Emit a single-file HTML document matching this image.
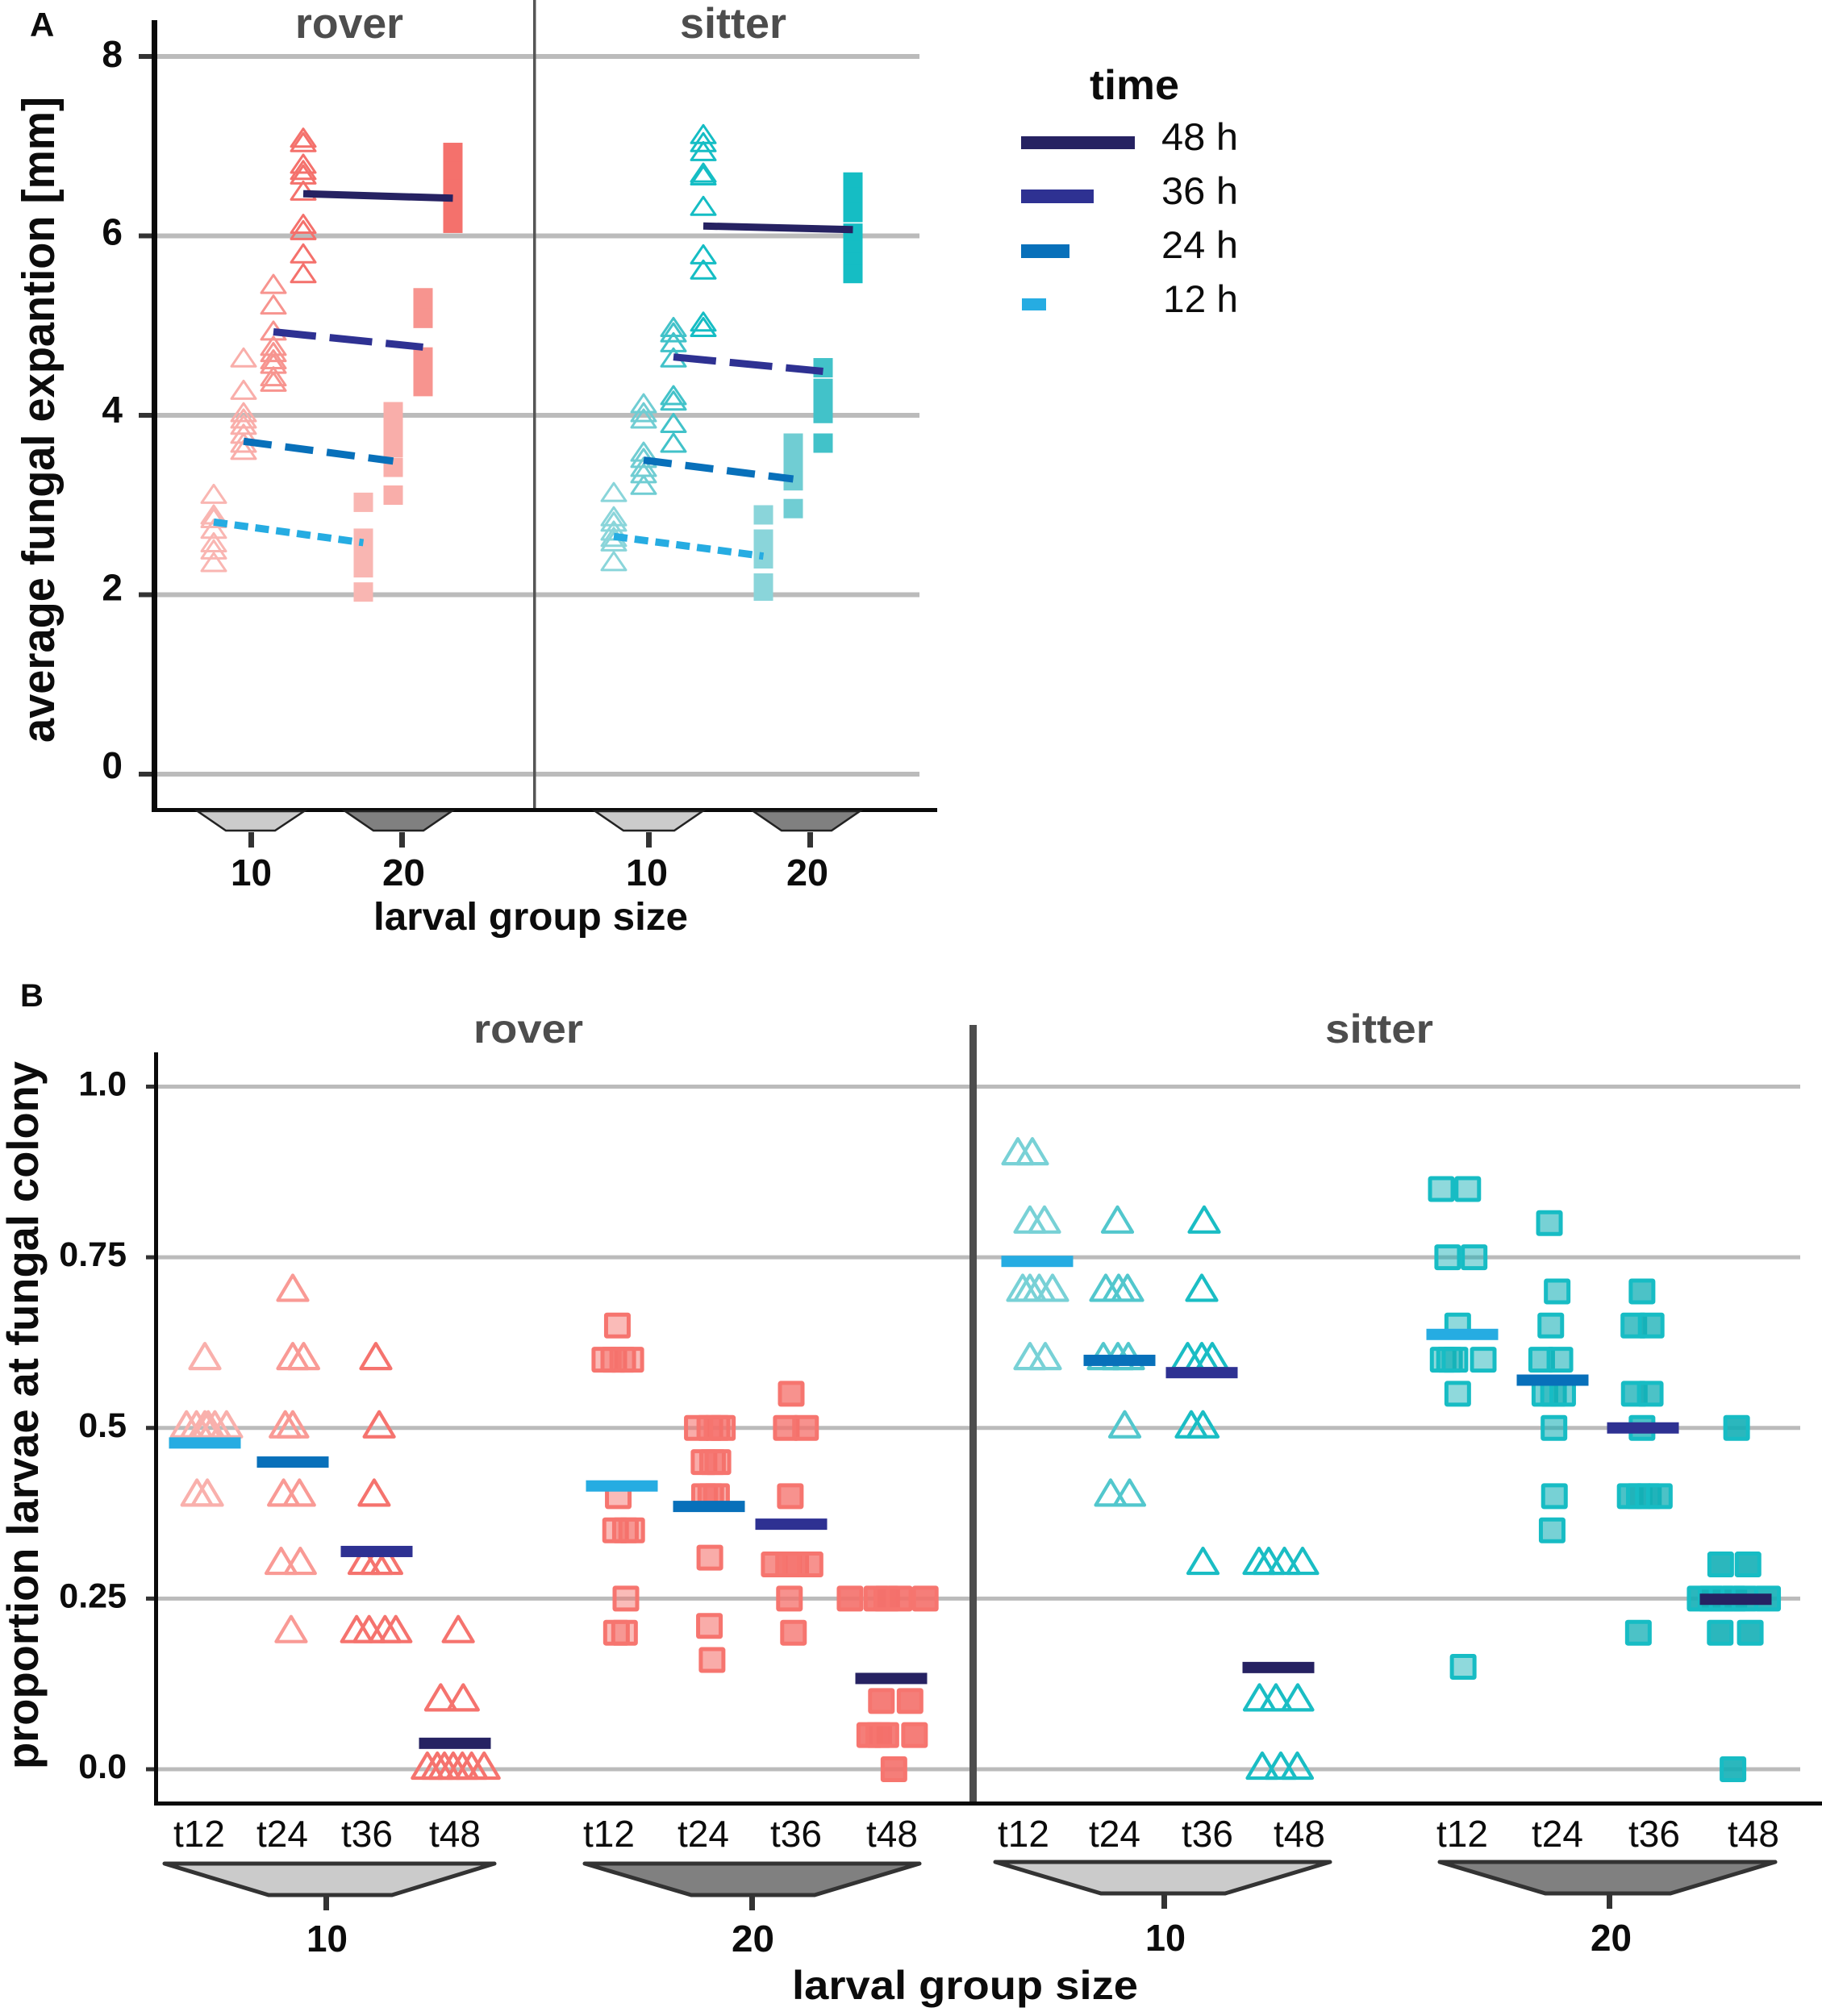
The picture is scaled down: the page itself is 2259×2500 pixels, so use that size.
<!DOCTYPE html>
<html lang="en">
<head>
<meta charset="utf-8">
<title>Fungal expansion and larval proportion by strain and group size</title>
<style>
html,body{margin:0;padding:0;background:#fff;width:2259px;height:2500px;overflow:hidden}
svg{display:block;font-family:"Liberation Sans",sans-serif}
text{fill:#0c0c0c}
.b{font-weight:bold}
.strain{font-weight:bold;fill:#4d4d4d}
</style>
</head>
<body>
<svg id="figure" xmlns="http://www.w3.org/2000/svg" width="2259" height="2500" viewBox="0 0 2259 2500">
  <rect width="2259" height="2500" fill="#fff"/>
  <g id="layerA"></g>
  <g id="layerB"></g>

  <!-- Panel A static furniture -->
  <text class="b" x="37" y="45" font-size="42">A</text>
  <text class="strain" x="366" y="47" font-size="53" textLength="134" lengthAdjust="spacingAndGlyphs">rover</text>
  <text class="strain" x="843" y="47" font-size="53" textLength="132" lengthAdjust="spacingAndGlyphs">sitter</text>
  <text class="b" transform="translate(67,921) rotate(-90)" font-size="57" textLength="801" lengthAdjust="spacingAndGlyphs">average fungal expantion [mm]</text>
  <text class="b" x="463" y="1153" font-size="48" textLength="390" lengthAdjust="spacingAndGlyphs">larval group size</text>

  <polygon points="245,1006 377,1006 341,1030 280,1030" fill="#cbcbcb" stroke="#222" stroke-width="2.5"/>
  <polygon points="428,1006 560,1006 525,1030 463,1030" fill="#808080" stroke="#222" stroke-width="2.5"/>
  <polygon points="738,1006 871,1006 836,1030 773,1030" fill="#cbcbcb" stroke="#222" stroke-width="2.5"/>
  <polygon points="934,1006 1066,1006 1031,1030 969,1030" fill="#808080" stroke="#222" stroke-width="2.5"/>
  <rect x="308" y="1032" width="7" height="19" fill="#333"/>
  <rect x="495" y="1032" width="7" height="19" fill="#333"/>
  <rect x="801" y="1032" width="7" height="19" fill="#333"/>
  <rect x="1001" y="1032" width="7" height="19" fill="#333"/>
  <text class="b" x="286" y="1098" font-size="46" textLength="51" lengthAdjust="spacingAndGlyphs">10</text>
  <text class="b" x="474" y="1098" font-size="46" textLength="53" lengthAdjust="spacingAndGlyphs">20</text>
  <text class="b" x="776" y="1098" font-size="46" textLength="52" lengthAdjust="spacingAndGlyphs">10</text>
  <text class="b" x="975" y="1098" font-size="46" textLength="52" lengthAdjust="spacingAndGlyphs">20</text>

  <!-- Legend -->
  <g>
    <text class="b" x="1351" y="123" font-size="52" textLength="111" lengthAdjust="spacingAndGlyphs">time</text>
    <rect x="1266" y="169" width="141" height="16" fill="#262262"/>
    <text x="1440" y="186" font-size="47" textLength="95" lengthAdjust="spacingAndGlyphs">48 h</text>
    <rect x="1266" y="235" width="90" height="17" fill="#2e3192"/>
    <text x="1440" y="253" font-size="47" textLength="95" lengthAdjust="spacingAndGlyphs">36 h</text>
    <rect x="1266" y="303" width="60" height="17" fill="#0870ba"/>
    <text x="1440" y="320" font-size="47" textLength="95" lengthAdjust="spacingAndGlyphs">24 h</text>
    <rect x="1267" y="370" width="30" height="15" fill="#26ace2"/>
    <text x="1442" y="387" font-size="47" textLength="93" lengthAdjust="spacingAndGlyphs">12 h</text>
  </g>

  <!-- Panel B static furniture -->
  <text class="b" x="25" y="1248" font-size="40">B</text>
  <text class="strain" x="587" y="1293" font-size="50" textLength="136" lengthAdjust="spacingAndGlyphs">rover</text>
  <text class="strain" x="1643" y="1293" font-size="50" textLength="134" lengthAdjust="spacingAndGlyphs">sitter</text>
  <text class="b" transform="translate(47,2194) rotate(-90)" font-size="55" textLength="878" lengthAdjust="spacingAndGlyphs">proportion larvae at fungal colony</text>
  <text class="b" x="982" y="2479" font-size="50" textLength="429" lengthAdjust="spacingAndGlyphs">larval group size</text>

  <polygon points="204,2311 613,2311 486,2350 333,2350" fill="#cbcbcb" stroke="#333" stroke-width="5" stroke-linejoin="round"/>
  <polygon points="725,2311 1140,2311 1010,2350 857,2350" fill="#808080" stroke="#333" stroke-width="5" stroke-linejoin="round"/>
  <polygon points="1234,2309 1649,2309 1519,2348 1365,2348" fill="#cbcbcb" stroke="#333" stroke-width="5" stroke-linejoin="round"/>
  <polygon points="1785,2309 2201,2309 2071,2348 1916,2348" fill="#808080" stroke="#333" stroke-width="5" stroke-linejoin="round"/>
  <rect x="401" y="2351" width="7" height="18" fill="#333"/>
  <rect x="929" y="2351" width="7" height="18" fill="#333"/>
  <rect x="1440" y="2349" width="7" height="18" fill="#333"/>
  <rect x="1992" y="2349" width="7" height="18" fill="#333"/>
  <text class="b" x="380" y="2420" font-size="46" textLength="51" lengthAdjust="spacingAndGlyphs">10</text>
  <text class="b" x="907" y="2420" font-size="46" textLength="53" lengthAdjust="spacingAndGlyphs">20</text>
  <text class="b" x="1420" y="2419" font-size="46" textLength="50" lengthAdjust="spacingAndGlyphs">10</text>
  <text class="b" x="1972" y="2419" font-size="46" textLength="51" lengthAdjust="spacingAndGlyphs">20</text>
</svg>

<script>
/* ===== Panel A data (average fungal expansion, mm) ===== */
const aTimes = ['12 h', '24 h', '36 h', '48 h'];
const aYTicks = [0, 2, 4, 6, 8];
const aYTickLabels = ['0', '2', '4', '6', '8'];

const aRover10 = [
  [3.12, 2.89, 2.85, 2.73, 2.58, 2.5, 2.36],
  [4.64, 4.28, 4.03, 3.96, 3.89, 3.79, 3.69, 3.61],
  [5.46, 5.23, 4.94, 4.77, 4.7, 4.62, 4.57, 4.43, 4.37],
  [7.09, 7.04, 6.8, 6.73, 6.68, 6.5, 6.13, 6.06, 5.8, 5.58]
];
const aRover20 = [
  [3.03, 2.63, 2.5, 2.3, 2.03],
  [4.04, 3.84, 3.64, 3.42, 3.11],
  [5.31, 5.2, 5.08, 4.65, 4.5, 4.32],
  [6.93, 6.72, 6.52, 6.33, 6.14]
];
const aSitter10 = [
  [3.14, 2.87, 2.81, 2.71, 2.64, 2.59, 2.37],
  [4.13, 4.03, 3.96, 3.59, 3.52, 3.42, 3.35, 3.22],
  [4.98, 4.92, 4.81, 4.64, 4.22, 4.16, 3.91, 3.69],
  [7.13, 7.04, 6.94, 6.7, 6.67, 6.33, 5.79, 5.62, 5.04, 4.98]
];
const aSitter20 = [
  [2.89, 2.62, 2.51, 2.4, 2.13, 2.04],
  [3.69, 3.48, 3.27, 2.96],
  [4.53, 4.3, 4.16, 4.02, 3.69],
  [6.6, 6.43, 6.26, 6.03, 5.84, 5.7, 5.58]
];
const aRoverMeans10 = [2.81, 3.71, 4.93, 6.47];
const aRoverMeans20 = [2.58, 3.49, 4.76, 6.42];
const aSitterMeans10 = [2.65, 3.5, 4.65, 6.11];
const aSitterMeans20 = [2.43, 3.29, 4.49, 6.07];

/* ===== Panel B data (proportion of larvae at fungal colony) ===== */
const bCategories = ['t12', 't24', 't36', 't48'];
const bYTicks = [0, 0.25, 0.5, 0.75, 1];
const bYTickLabels = ['0.0', '0.25', '0.5', '0.75', '1.0'];

const bRover10Values = [
  [.6, .5, .5, .5, .5, .5, .5, .4, .4],
  [.7, .6, .6, .5, .5, .4, .4, .3, .3, .2],
  [.6, .5, .4, .3, .3, .3, .2, .2, .2, .2],
  [.2, .1, .1, 0, 0, 0, 0, 0, 0, 0]
];
const bRover10Jitter = [
  [0, -.22, -.1, 0, .04, .12, .26, -.095, .03],
  [0, 0, .13, -.09, 0, -.11, .08, -.14, .09, -.02],
  [-.01, .03, -.03, -.15, 0, .12, -.24, -.09, .1, .23],
  [.04, -.17, .1, -.33, -.21, -.125, -.02, .09, .2, .35]
];
const bRover20Values = [
  [.65, .6, .6, .6, .6, .4, .35, .35, .35, .25, .2, .2],
  [.5, .5, .5, .5, .45, .45, .45, .4, .4, .4, .31, .21, .16],
  [.55, .5, .5, .4, .3, .3, .3, .3, .25, .2],
  [.25, .25, .25, .25, .25, .1, .1, .05, .05, .05, .05, 0]
];
const bRover20Jitter = [
  [-.05, -.19, -.09, .01, .1, -.04, -.07, .04, .11, .045, -.06, .03],
  [-.13, .01, .09, .15, -.055, .04, .1, -.05, .02, .085, .01, .005, .035],
  [0, -.055, .16, -.01, -.19, -.03, .05, .21, -.02, .025],
  [-.46, -.16, -.05, .09, .38, -.11, .21, -.24, -.14, -.06, .26, .03]
];
const bSitter10Values = [
  [.9, .9, .8, .8, .7, .7, .7, .7, .6, .6],
  [.8, .7, .7, .7, .6, .6, .6, .5, .4, .4],
  [.8, .7, .6, .6, .6, .5, .5, .3],
  [.3, .3, .3, .3, .1, .1, .1, 0, 0, 0]
];
const bSitter10Jitter = [
  [-.24, -.06, -.09, .09, -.18, -.09, .025, .19, -.09, .1],
  [-.025, -.17, -.01, .1, -.2, -.02, .11, .065, -.11, .125],
  [.03, 0, -.175, 0, .13, -.13, .015, .015],
  [-.24, -.12, .075, .3, -.235, -.03, .24, -.2, .03, .235]
];
const bSitter20Values = [
  [.85, .85, .75, .75, .65, .6, .6, .6, .6, .55, .15],
  [.8, .7, .65, .6, .6, .55, .55, .55, .5, .4, .35],
  [.7, .65, .65, .55, .55, .5, .4, .4, .4, .4, .2],
  [.5, .3, .3, .25, .25, .25, .25, .25, .25, .2, .2, 0]
];
const bSitter20Jitter = [
  [-.23, .06, -.16, .13, -.05, -.21, -.14, -.08, .23, -.05, .01],
  [-.035, .05, -.02, -.12, .08, -.085, .01, .11, .015, .02, -.005],
  [-.01, -.1, .09, -.095, .08, -.01, -.14, -.04, .06, .18, -.05],
  [.01, -.165, .135, -.39, -.27, -.15, -.02, .1, .35, -.17, .16, -.03]
];
const bRoverMeans10 = [.478, .45, .319, .038];
const bRoverMeans20 = [.415, .385, .359, .133];
const bSitterMeans10 = [.744, .599, .581, .149];
const bSitterMeans20 = [.637, .57, .5, .249];

/* ===== Drawing ===== */
const NS = 'http://www.w3.org/2000/svg';
const layerA = document.getElementById('layerA');
const layerB = document.getElementById('layerB');

function mk(parent, tag, attrs) {
  const el = document.createElementNS(NS, tag);
  for (const k in attrs) el.setAttribute(k, attrs[k]);
  parent.appendChild(el);
  return el;
}

/* axis functions */
function yA(v) { return 960 - v * 111.25; }
function xA(strain, size, time) { return 265 + strain * 496 + size * 185.5 + time * 37; }
function yB(v) { return 2194 - v * 846.5; }
function xB(group, cat, jitter) {
  const bands = [
    [254, 363, 467, 564],
    [771, 879, 981, 1105],
    [1286, 1388, 1490, 1585],
    [1813, 1925, 2037, 2152]
  ];
  const steps = [103.5, 111, 100, 113];
  return bands[group][cat] + jitter * steps[group];
}

const meanColors = ['#26ace2', '#0870ba', '#2e3192', '#262262'];
const aColors = [
  ['#f9b6b2', '#f9aeaa', '#f7948f', '#f4716c'],
  ['#8ad5da', '#70cdd3', '#42c2c9', '#15bdc4']
];
const bTriColors = [
  ['#f9b0ac', '#f99a95', '#f5736e', '#f5736e'],
  ['#78d1d6', '#52c7cd', '#1abdc4', '#1abdc4']
];
const bSquareAlpha = [.48, .58, .76, .9];
const bSquareRgb = ['244,112,106', '20,175,182'];
const bSquareStroke = ['#f6756f', '#17bcc4'];
const aDash = ['17 9', '35 17', '53 17', 'none'];

function triPoints(cx, cy, w, up, down) {
  return (cx - w / 2) + ',' + (cy + down) + ' ' + cx + ',' + (cy - up) + ' ' + (cx + w / 2) + ',' + (cy + down);
}

/* --- Panel A --- */
function axisLine(parent, x, y, w, h, fill, name) {
  const el = mk(parent, 'rect', { x: x, y: y, width: w, height: h, fill: fill });
  
  
  return el;
}

aYTicks.forEach(function (t, i) {
  const grid = axisLine(layerA, 172, yA(t) - 3, 968, 6, '#bbbbbb', 'panel-a-gridline');
  grid.setAttribute('data-tick', t);
  axisLine(layerA, 172, yA(t) - 3, 19, 6, '#333333', 'panel-a-y-tick');
  const label = mk(layerA, 'text', { x: 152, y: yA(t) + 5 + t, 'text-anchor': 'end', 'font-size': 46, 'class': 'b' });
  label.textContent = aYTickLabels[i];
  
  
});
axisLine(layerA, 661, 0, 3.5, 1004, '#555555', 'panel-a-strain-separator');

const aStrains = [
  { idx: 0, name: 'rover', tri: aRover10, sq: aRover20, m10: aRoverMeans10, m20: aRoverMeans20 },
  { idx: 1, name: 'sitter', tri: aSitter10, sq: aSitter20, m10: aSitterMeans10, m20: aSitterMeans20 }
];
aStrains.forEach(function (s) {
  aTimes.forEach(function (time, t) {
    const col = aColors[s.idx][t];
    s.tri[t].forEach(function (v) {
      const tri = mk(layerA, 'polygon', {
        points: triPoints(xA(s.idx, 0, t), yA(v), 30, 11.5, 10.5),
        fill: 'none', stroke: col, 'stroke-width': 3, 'stroke-linejoin': 'round'
      });
      
      
    });
    s.sq[t].forEach(function (v) {
      const sq = mk(layerA, 'rect', {
        x: xA(s.idx, 1, t) - 12, y: yA(v) - 12, width: 24, height: 24, fill: col
      });
      
      
    });
  });
});
aStrains.forEach(function (s) {
  aTimes.forEach(function (time, t) {
    const line = mk(layerA, 'line', {
      x1: xA(s.idx, 0, t), y1: yA(s.m10[t]),
      x2: xA(s.idx, 1, t), y2: yA(s.m20[t]),
      stroke: meanColors[t], 'stroke-width': 9,
      'stroke-dasharray': aDash[t]
    });
    
    
  });
});
axisLine(layerA, 188, 25, 7, 982, '#0a0a0a', 'panel-a-y-axis');
axisLine(layerA, 192, 1002, 970, 5, '#0a0a0a', 'panel-a-x-axis');

/* --- Panel B --- */
bYTicks.forEach(function (t, i) {
  const grid = axisLine(layerB, 181, yB(t) - 2.5, 2051, 5, '#bbbbbb', 'panel-b-gridline');
  grid.setAttribute('data-tick', t);
  axisLine(layerB, 181, yB(t) - 2.5, 12, 5, '#333333', 'panel-b-y-tick');
  const label = mk(layerB, 'text', { x: 157, y: yB(t) + 11, 'text-anchor': 'end', 'font-size': 43, 'class': 'b' });
  label.textContent = bYTickLabels[i];
  
  
});

const bGroups = [
  { g: 0, strain: 0, shape: 'tri', name: 'rover-10', vals: bRover10Values, jit: bRover10Jitter, means: bRoverMeans10, labelX: [247, 350, 455, 564], labelY: 2290 },
  { g: 1, strain: 0, shape: 'sq', name: 'rover-20', vals: bRover20Values, jit: bRover20Jitter, means: bRoverMeans20, labelX: [755, 872, 987, 1106], labelY: 2290 },
  { g: 2, strain: 1, shape: 'tri', name: 'sitter-10', vals: bSitter10Values, jit: bSitter10Jitter, means: bSitterMeans10, labelX: [1269, 1382, 1497, 1611], labelY: 2290 },
  { g: 3, strain: 1, shape: 'sq', name: 'sitter-20', vals: bSitter20Values, jit: bSitter20Jitter, means: bSitterMeans20, labelX: [1813, 1931, 2051, 2174], labelY: 2290 }
];

bGroups.forEach(function (grp) {
  bCategories.forEach(function (cat, c) {
    grp.vals[c].forEach(function (v, i) {
      const x = xB(grp.g, c, grp.jit[c][i]);
      if (grp.shape === 'tri') {
        const tri = mk(layerB, 'polygon', {
          points: triPoints(x, yB(v), 37, 20, 11),
          fill: 'none', stroke: bTriColors[grp.strain][c], 'stroke-width': 4.2, 'stroke-linejoin': 'round'
        });
        
        
      } else {
        const sq = mk(layerB, 'rect', {
          x: x - 14, y: yB(v) - 13.5, width: 28, height: 27, rx: 1,
          fill: 'rgba(' + bSquareRgb[grp.strain] + ',' + bSquareAlpha[c] + ')',
          stroke: bSquareStroke[grp.strain], 'stroke-width': 5
        });
        
        
      }
    });
  });
});
bGroups.forEach(function (grp) {
  bCategories.forEach(function (cat, c) {
    const bar = mk(layerB, 'rect', {
      x: xB(grp.g, c, 0) - 44.5, y: yB(grp.means[c]) - 7, width: 89, height: 14, fill: meanColors[c]
    });
    
    
    const lab = mk(layerB, 'text', {
      x: grp.labelX[c], y: grp.labelY, 'text-anchor': 'middle', 'font-size': 46
    });
    lab.textContent = cat;
    
    
  });
});
axisLine(layerB, 1202, 1271, 9, 965, '#4d4d4d', 'panel-b-strain-separator');
axisLine(layerB, 191, 1305, 5, 933, '#0a0a0a', 'panel-b-y-axis');
axisLine(layerB, 191, 2234, 2068, 5, '#0a0a0a', 'panel-b-x-axis');
</script>
</body>
</html>
